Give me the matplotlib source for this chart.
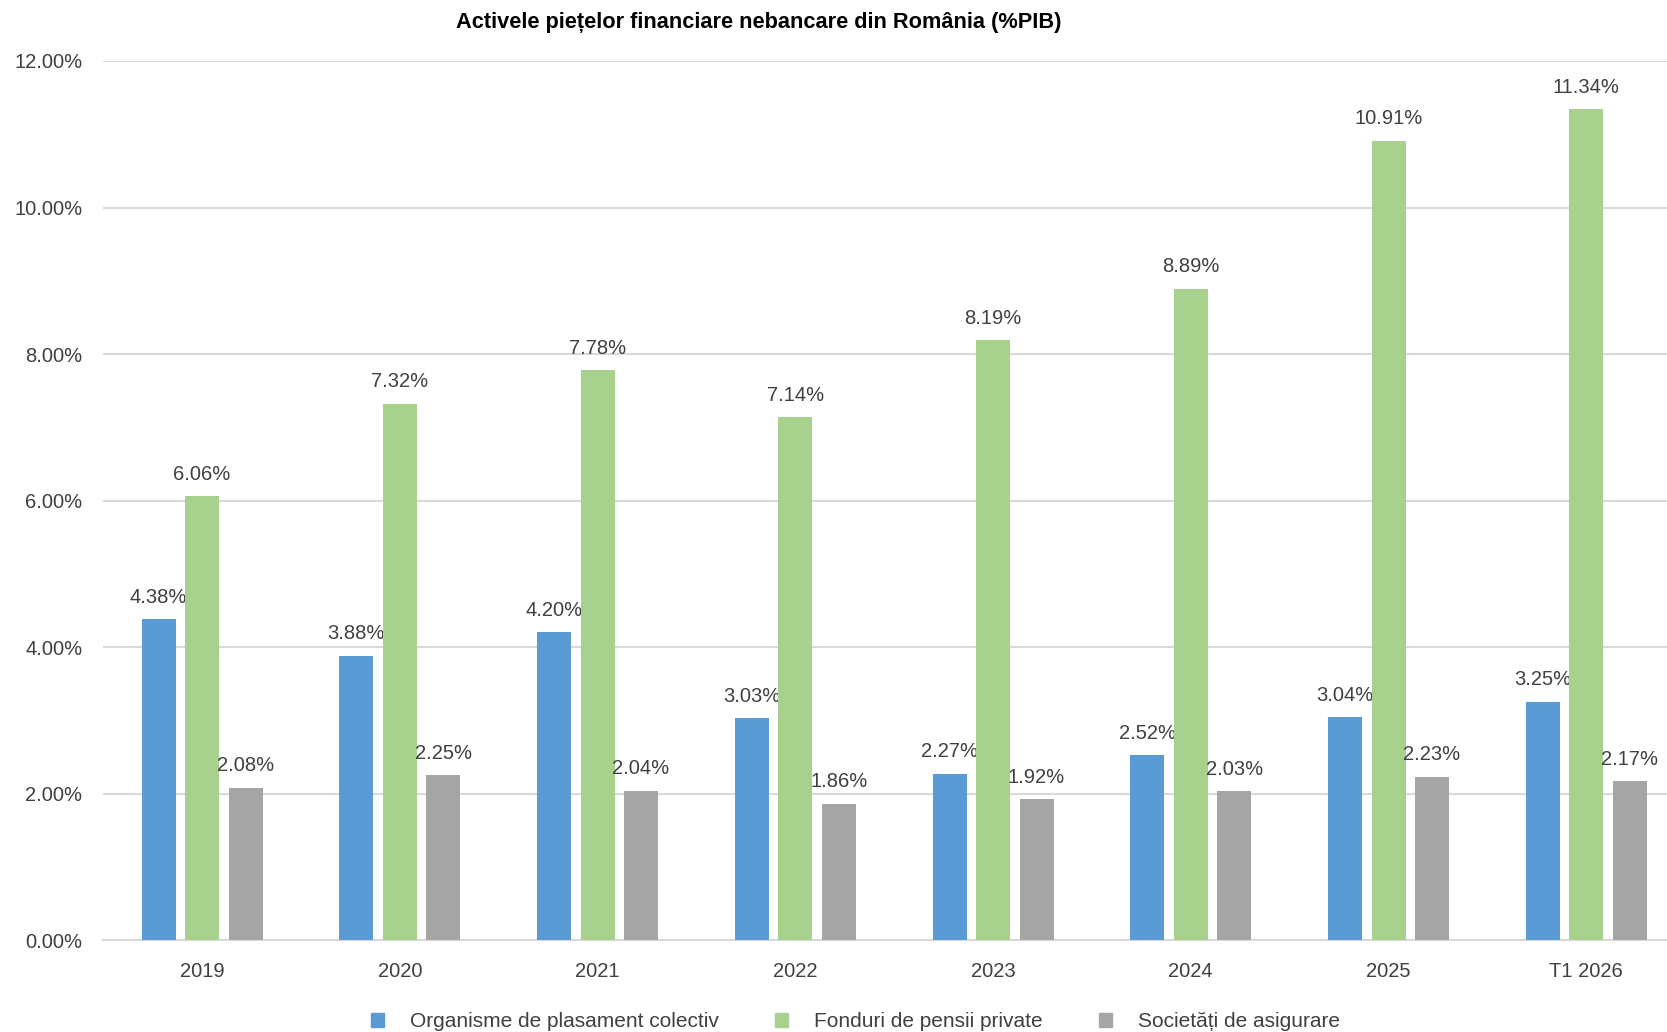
#!/usr/bin/env python3

import numpy as np
import matplotlib
matplotlib.use('Agg')
import matplotlib.pyplot as plt
from matplotlib.patches import Patch
from matplotlib.ticker import FuncFormatter

# date (% PIB)
categories = ['2019', '2020', '2021', '2022', '2023', '2024', '2025', 'T1 2026']
opc = [4.38, 3.88, 4.20, 3.03, 2.27, 2.52, 3.04, 3.25]
pensii = [6.06, 7.32, 7.78, 7.14, 8.19, 8.89, 10.91, 11.34]
asigurari = [2.08, 2.25, 2.04, 1.86, 1.92, 2.03, 2.23, 2.17]
series_names = ['Organisme de plasament colectiv', 'Fonduri de pensii private',
                'Societăți de asigurare']

colors = ['#5B9BD5', '#A9D18E', '#A5A5A5']
txt_col = '#404040'
plt.rcParams['font.family'] = ['Liberation Sans', 'DejaVu Sans']

fig = plt.figure(figsize=(16.67, 10.32), dpi=100)
# zona graficului iese putin peste marginea din dreapta, ca in original
ax = fig.add_axes([0.0619, 0.0891, 0.949, 0.8518])

x = np.arange(len(categories))
step = 0.220
width = 0.172
for i, (vals, col) in enumerate(zip([opc, pensii, asigurari], colors)):
    bars = ax.bar(x + (i - 1) * step, vals, width, color=col, zorder=3)
    ax.bar_label(bars, labels=['%.2f%%' % v for v in vals], padding=9,
                 fontsize=14.5, color=txt_col)

ax.set_xlim(-0.5, len(categories) - 0.5)
ax.set_ylim(0, 12)
ax.set_yticks(np.arange(0, 12.01, 2))
ax.yaxis.set_major_formatter(FuncFormatter(lambda v, p: '%.2f%%' % v))
ax.set_xticks(x)
ax.set_xticklabels(categories)
ax.tick_params(axis='both', length=0, labelsize=14.5, labelcolor=txt_col)
ax.tick_params(axis='y', pad=15)
ax.tick_params(axis='x', pad=16)
ax.grid(axis='y', color='#D9D9D9', lw=1.5, zorder=0)
for s in ['top', 'right', 'left']:
    ax.spines[s].set_visible(False)
ax.spines['bottom'].set_color('#D9D9D9')
ax.spines['bottom'].set_linewidth(1.5)

fig.text(0.455, 0.978, 'Activele piețelor financiare nebancare din România (%PIB)',
         ha='center', va='center', fontsize=15.7, fontweight='bold', color='black')

handles = [Patch(color=c) for c in colors]
fig.legend(handles, series_names, loc='center', bbox_to_anchor=(0.513, 0.010),
           ncol=3, frameon=False, fontsize=15, labelcolor=txt_col,
           handlelength=0.62, handleheight=0.62, handletextpad=1.25,
           columnspacing=2.7)

fig.savefig('out.png', dpi=100)
